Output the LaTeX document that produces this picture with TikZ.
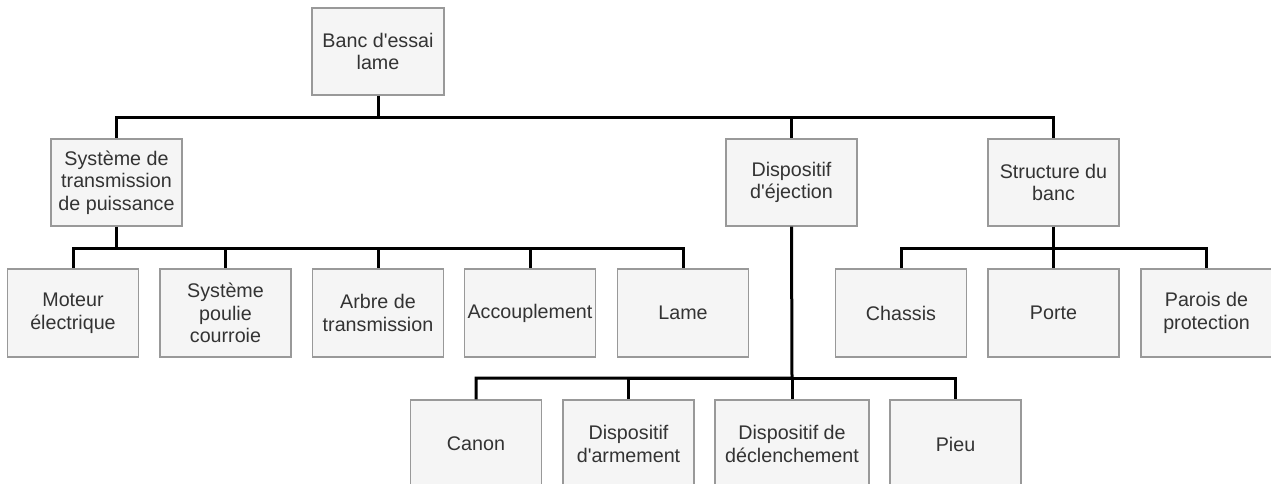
\documentclass[tikz,border=0pt]{standalone}
\usepackage{fontspec}
\setmainfont{Liberation Sans}[Ligatures=TeXOff]
\definecolor{boxfill}{HTML}{F5F5F5}
\definecolor{boxline}{HTML}{999999}
\definecolor{txt}{HTML}{333333}
\begin{document}
\begin{tikzpicture}[x=1pt,y=-1pt,
  box/.style={draw=boxline,line width=1.3pt,fill=boxfill,text=txt,
    minimum width=131pt,minimum height=87pt,inner sep=0pt,align=center,
    font=\fontsize{19.7}{22.6}\selectfont},
  link/.style={line width=3pt,black,line join=miter}]
\useasboundingbox (0,0) rectangle (1271,483);
\clip (0,0) rectangle (1271,483);
% level 0
\node[box,minimum width=132pt] (root) at (378,51.5) {Banc d'essai\\lame};
% level 1
\node[box] (trans) at (116.5,182.5) {Système de\\transmission\\de puissance};
\node[box] (eject) at (791.5,182.5) {Dispositif\\d'éjection};
\node[box] (struct) at (1053.5,182.5) {Structure du\\banc};
% level 2 left
\node[box,minimum height=88pt] (moteur) at (73,313) {Moteur\\électrique};
\node[box,minimum height=88pt] (poulie) at (225.5,313) {Système\\poulie\\courroie};
\node[box,minimum height=88pt] (arbre) at (378,313) {Arbre de\\transmission};
\node[box,minimum height=88pt] (accoup) at (530,313) {Accouplement};
\node[box,minimum height=88pt] (lame) at (683,313) {Lame};
% level 2 right
\node[box,minimum height=88pt] (chassis) at (901,313) {Chassis};
\node[box,minimum height=88pt] (porte) at (1053.5,313) {Porte};
\node[box,minimum height=88pt] (parois) at (1206.5,313) {Parois de\\protection};
% level 2 middle
\node[box,minimum height=88pt] (canon) at (476,444) {Canon};
\node[box,minimum height=88pt] (arme) at (628.5,444) {Dispositif\\d'armement};
\node[box,minimum height=88pt,minimum width=154pt] (decl) at (792,444) {Dispositif de\\déclenchement};
\node[box,minimum height=88pt] (pieu) at (955.5,444) {Pieu};
% connectors
\coordinate (b0) at (378,117);
\coordinate (b1) at (116.5,248);
\coordinate (b2) at (1053.5,248);
\coordinate (b3) at (792,378);
\draw[link] (root.south) -- (b0) -| (trans.north);
\draw[link] (b0) -| (eject.north);
\draw[link] (b0) -| (struct.north);
\draw[link] (trans.south) -- (b1) -| (moteur.north);
\draw[link] (b1) -| (poulie.north);
\draw[link] (b1) -| (arbre.north);
\draw[link] (b1) -| (accoup.north);
\draw[link] (b1) -| (lame.north);
\draw[link] (struct.south) -- (b2) -| (chassis.north);
\draw[link] (b2) -- (porte.north);
\draw[link] (b2) -| (parois.north);
\draw[link] (eject.south) -- (b3) -| (canon.north);
\draw[link] (b3) -| (arme.north);
\draw[link] (b3) -- (decl.north);
\draw[link] (b3) -| (pieu.north);
\end{tikzpicture}
\end{document}
